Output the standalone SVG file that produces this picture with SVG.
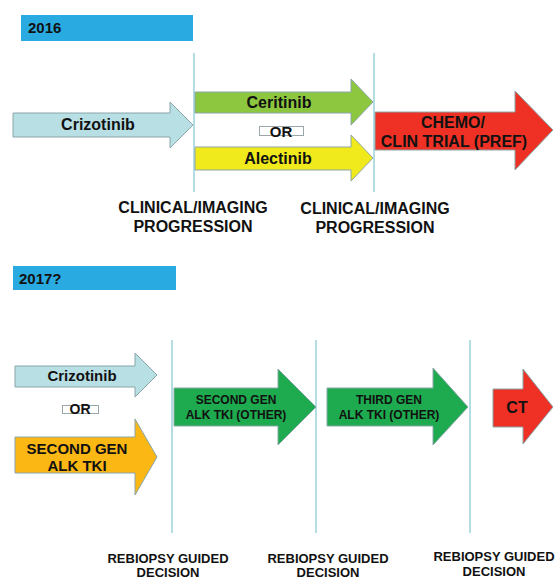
<svg xmlns="http://www.w3.org/2000/svg" width="556" height="579" viewBox="0 0 556 579">
<style>
text{font-family:"Liberation Sans",Arial,sans-serif;font-weight:bold;fill:#111;}
.c{text-anchor:middle;}
.vl{stroke:#b3dde3;stroke-width:2;fill:none;}
.ar{stroke:#8aa6aa;stroke-width:1;}
.blue{fill:#b7dfe4;}
.lime{fill:#8dc63f;}
.yel{fill:#f0ea1c;}
.red{fill:#ee3124;}
.grn{fill:#1eaa4e;}
.org{fill:#fbb714;}
.orbox{fill:#fff;stroke:#9aa7aa;stroke-width:1;}
.yr{fill:#29abe2;}
</style>
<rect width="556" height="579" fill="#fff"/>
<g id="connectors">
<line class="vl" x1="194" y1="53" x2="194" y2="192"/>
<line class="vl" x1="374" y1="53" x2="374" y2="192"/>
<line class="vl" x1="172" y1="340" x2="172" y2="533"/>
<line class="vl" x1="316" y1="340" x2="316" y2="533"/>
<line class="vl" x1="470" y1="340" x2="470" y2="533"/>
</g>
<g id="year2016">
<rect class="yr" x="21" y="15" width="172" height="26"/>
<text x="28" y="33" font-size="15">2016</text>
</g>
<g id="crizotinib2016">
<polygon class="ar blue" points="13,113 170,113 170,102 193,125 170,148 170,137 13,137"/>
<text class="c" x="98" y="130" font-size="16">Crizotinib</text>
</g>
<g id="ceritinib">
<polygon class="ar lime" points="195,92 351,92 351,79 373,102 351,125 351,113 195,113"/>
<text class="c" x="279" y="108" font-size="16">Ceritinib</text>
</g>
<g id="or2016">
<rect class="orbox" x="259.5" y="126.5" width="44" height="9"/>
<text class="c" x="281" y="137" font-size="15">OR</text>
</g>
<g id="alectinib">
<polygon class="ar yel" points="195,147 351,147 351,135 373,158 351,181 351,170 195,170"/>
<text class="c" x="278" y="164" font-size="16">Alectinib</text>
</g>
<g id="chemo">
<polygon class="ar red" points="375,112 515,112 515,91 553,130 515,170 515,150 375,150"/>
<text class="c" x="453" y="128" font-size="16">CHEMO/</text>
<text class="c" x="454" y="147" font-size="16">CLIN TRIAL (PREF)</text>
</g>
<g id="label-progression1">
<text class="c" x="193" y="213" font-size="16">CLINICAL/IMAGING</text>
<text class="c" x="193" y="232" font-size="16">PROGRESSION</text>
</g>
<g id="label-progression2">
<text class="c" x="375" y="214" font-size="16">CLINICAL/IMAGING</text>
<text class="c" x="375" y="233" font-size="16">PROGRESSION</text>
</g>
<g id="year2017">
<rect class="yr" x="13" y="266" width="163" height="24"/>
<text x="19" y="284" font-size="15">2017?</text>
</g>
<g id="crizotinib2017">
<polygon class="ar blue" points="15,366 135,366 135,353 157,375 135,397 135,387 15,387"/>
<text class="c" x="82" y="381" font-size="15">Crizotinib</text>
</g>
<g id="or2017">
<rect class="orbox" x="62.5" y="405.5" width="36" height="8"/>
<text class="c" x="80" y="414" font-size="14">OR</text>
</g>
<g id="secondgen">
<polygon class="ar org" points="15,437 135,437 135,419 157,457 135,495 135,473 15,473"/>
<text class="c" x="77" y="454" font-size="15">SECOND GEN</text>
<text class="c" x="77" y="471" font-size="15">ALK TKI</text>
</g>
<g id="secondgen-other">
<polygon class="ar grn" points="174,388 278,388 278,369 316,407 278,445 278,426 174,426"/>
<text class="c" x="236" y="404" font-size="12">SECOND GEN</text>
<text class="c" x="236" y="419" font-size="12">ALK TKI (OTHER)</text>
</g>
<g id="thirdgen">
<polygon class="ar grn" points="327,388 433,388 433,368 468,407 433,445 433,426 327,426"/>
<text class="c" x="389" y="404" font-size="12">THIRD GEN</text>
<text class="c" x="389" y="419" font-size="12">ALK TKI (OTHER)</text>
</g>
<g id="ct">
<polygon class="ar red" points="493,389 523,389 523,369 553,407 523,444 523,427 493,427"/>
<text class="c" x="517" y="413" font-size="16">CT</text>
</g>
<g id="label-rebiopsy1">
<text class="c" x="168" y="563" font-size="13">REBIOPSY GUIDED</text>
<text class="c" x="168" y="577" font-size="13">DECISION</text>
</g>
<g id="label-rebiopsy2">
<text class="c" x="328" y="563" font-size="13">REBIOPSY GUIDED</text>
<text class="c" x="328" y="577" font-size="13">DECISION</text>
</g>
<g id="label-rebiopsy3">
<text class="c" x="494" y="561" font-size="13">REBIOPSY GUIDED</text>
<text class="c" x="494" y="576" font-size="13">DECISION</text>
</g>
</svg>
